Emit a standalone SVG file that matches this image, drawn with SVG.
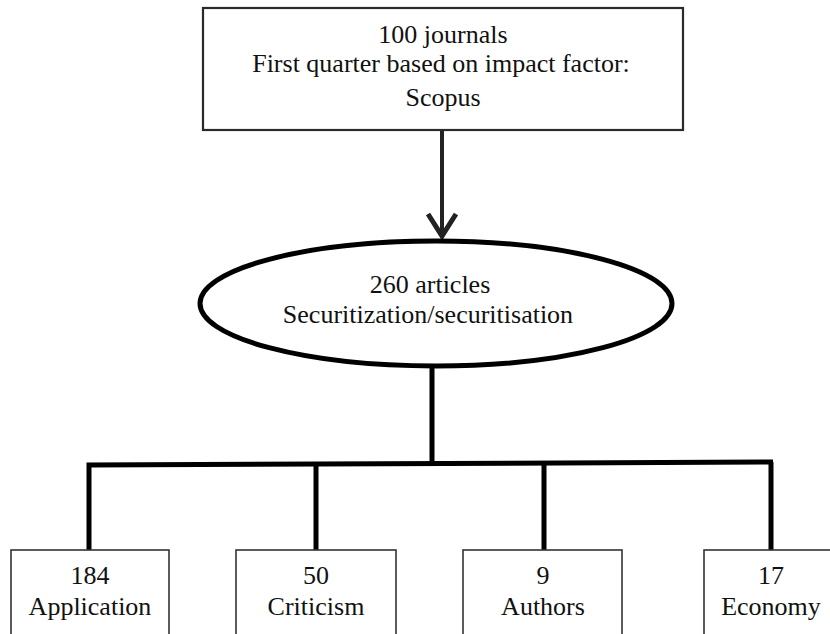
<svg xmlns="http://www.w3.org/2000/svg" width="830" height="634" viewBox="0 0 830 634">
<defs>
<style>
text{font-family:"Liberation Serif","Times New Roman",serif;font-size:26px;fill:#111;text-anchor:middle}
.box{fill:#fff;stroke:#333;stroke-width:1.6}
.top{fill:#fff;stroke:#2a2a2a;stroke-width:2.2}
.ell{fill:#fff;stroke:#000;stroke-width:5}
.conn{fill:none;stroke:#000;stroke-width:5;stroke-linecap:butt;stroke-linejoin:miter}
.arrow{fill:none;stroke:#222;stroke-width:4}
</style>
<marker id="chev" viewBox="-30 -20 40 40" markerWidth="40" markerHeight="40" markerUnits="userSpaceOnUse" refX="0" refY="0" orient="auto">
<path d="M-22,-14 L0,0 L-22,14" fill="none" stroke="#222" stroke-width="5" stroke-linejoin="miter"/>
</marker>
</defs>
<rect width="830" height="634" fill="#fff"/>
<g id="connectors">
<line class="arrow" x1="442" y1="130" x2="442" y2="236" marker-end="url(#chev)"/>
<line class="conn" x1="432" y1="366" x2="432" y2="464"/>
<path class="conn" d="M89,551 V465 L773,462"/>
<path class="conn" d="M316,551 V464"/>
<path class="conn" d="M544,551 V463"/>
<path class="conn" d="M771,551 V462"/>
</g>
<g id="n-journals">
<rect class="top" x="203" y="8" width="480" height="122"/>
<text x="443" y="43">100 journals</text>
<text x="441" y="72">First quarter based on impact factor:</text>
<text x="443" y="106">Scopus</text>
</g>
<g id="n-articles">
<ellipse class="ell" cx="436" cy="303.5" rx="236" ry="62.5"/>
<text x="430" y="293">260 articles</text>
<text x="428" y="323">Securitization/securitisation</text>
</g>
<g id="n-application">
<rect class="box" x="11" y="550" width="158" height="100"/>
<text x="90" y="584">184</text>
<text x="90" y="615">Application</text>
</g>
<g id="n-criticism">
<rect class="box" x="236" y="550" width="160" height="100"/>
<text x="316" y="584">50</text>
<text x="316" y="615">Criticism</text>
</g>
<g id="n-authors">
<rect class="box" x="463" y="550" width="159" height="100"/>
<text x="543" y="584">9</text>
<text x="543" y="615">Authors</text>
</g>
<g id="n-economy">
<rect class="box" x="704" y="550" width="134" height="100"/>
<text x="771" y="584">17</text>
<text x="771" y="615">Economy</text>
</g>
</svg>
